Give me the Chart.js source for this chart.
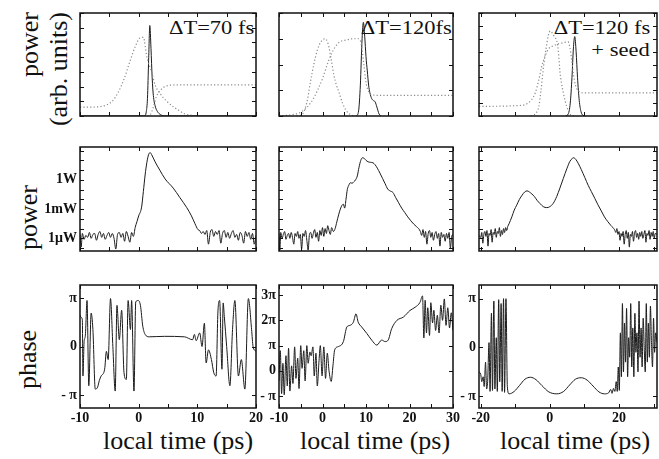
<!DOCTYPE html>
<html>
<head>
<meta charset="utf-8">
<script src="https://cdn.jsdelivr.net/npm/chart.js@4/dist/chart.umd.min.js"></script>
<style>
  body { margin: 0; width: 659px; height: 459px; overflow: hidden; background: #fff; position: relative;
         font-family: 'Liberation Serif', 'Times New Roman', serif; color: #111; }
  canvas { position: absolute; }
  .lab { position: absolute; white-space: nowrap; }
  .rot { transform: rotate(-90deg); }
  .note { font-size: 18px; line-height: 18px; text-align: right; transform: scaleX(1.25); transform-origin: right center; }
  .xt { font-size: 26px; width: 200px; text-align: center; top: 426px; line-height: 30px; }
</style>
</head>
<body>
<div class="lab rot" style="left:-16.5px;top:43px;width:120px;height:58px;font-size:26px;line-height:29px;text-align:right">power<br>(arb. units)</div>
<div class="lab rot" style="left:-12px;top:202.5px;width:80px;height:29px;font-size:26px;line-height:29px;text-align:center">power</div>
<div class="lab rot" style="left:-13px;top:344.5px;width:80px;height:29px;font-size:26px;line-height:29px;text-align:center">phase</div>

<div class="lab note" style="right:405px;top:19px">ΔT=70 fs</div>
<div class="lab note" style="right:207px;top:19px">ΔT=120fs</div>
<div class="lab note" style="right:9px;top:19px">ΔT=120 fs</div>
<div class="lab note" style="right:9px;top:41px">+ seed</div>

<div class="lab xt" style="left:78px">local time (ps)</div>
<div class="lab xt" style="left:275px">local time (ps)</div>
<div class="lab xt" style="left:475px">local time (ps)</div>

<script>
// ---- x axes (local time, ps) ----
const timeRange70 = [-10, 20]
const timeRange120 = [-10, 30]
const timeRangeSeed = [-20.5, 31]
const timeTicks70 = [-10, 0, 10, 20]
const timeTicks120 = [-10, 0, 10, 20, 30]
const timeTicksSeed = [-20, 0, 20]

// ---- row 1: power (arb. units), linear ----
const pulse70 = [[-10,0],[1.0,0],[1.3,0.3],[1.5,1.2],[1.7,3.8],[1.9,6.15],[2.1,4.6],[2.3,2.6],[2.5,1.4],[2.8,0.7],[3.2,0.3],[3.7,0.1],[4.3,0],[20,0]]
const dotA70 = [[-10,0.6],[-7,0.62],[-5.5,0.75],[-4.5,1.0],[-3.5,1.6],[-2.5,2.5],[-1.5,3.7],[-0.5,4.8],[0.2,5.3],[0.8,5.35],[1.4,4.0],[2.2,3.0],[2.8,2.1],[3.6,1.55],[4.8,1.0],[6,0.6],[7,0.35],[7.8,0.15],[9,0.05],[10,0.02]]
const dotB70 = [[1.5,0],[2.0,0.1],[2.5,0.6],[3.0,1.3],[3.6,1.7],[4.5,2.0],[5.5,2.1],[8,2.12],[20,2.12]]

const pulse120 = [[7.8,0],[8.3,0.2],[8.7,1.2],[9.1,3.0],[9.4,3.64],[9.7,3.1],[10.0,2.3],[10.3,1.75],[10.6,1.2],[10.9,0.9],[11.3,0.68],[11.7,0.6],[12.1,0.55],[12.5,0.35],[13,0.08],[13.5,0]]
const dotA120 = [[-6,0],[-4.5,0.1],[-3.5,0.6],[-2.8,1.3],[-2,2.0],[-1.2,2.55],[-0.3,2.9],[0.6,3.0],[1.3,2.8],[2,2.2],[2.6,1.6],[3.2,1.2],[3.9,0.86],[4.6,0.5],[5.5,0.2],[6.5,0.05],[7.5,0]]
const dotB120 = [[-10,0.01],[-7,0.05],[-5,0.15],[-3.5,0.35],[-2,0.7],[-1,1.05],[0,1.45],[1,1.95],[2,2.4],[3,2.7],[4,2.88],[5.5,2.95],[7,3.0],[8.3,3.0],[8.9,2.8],[9.5,2.0],[10.0,1.3],[10.6,0.95],[11.5,0.82],[13,0.8],[30,0.8]]

const pulseSeed = [[4.5,0],[5.3,0.15],[5.9,1.0],[6.4,3.0],[6.8,5.2],[7.2,6.17],[7.6,5.0],[8.0,3.0],[8.5,1.2],[9.0,0.35],[9.6,0.05],[10.2,0]]
const dotASeed = [[-5.5,0],[-4.5,0.1],[-3.6,0.4],[-3.2,0.72],[-2.6,1.9],[-1.8,3.9],[-1.0,5.4],[-0.4,6.3],[0.1,6.6],[0.8,6.4],[1.4,6.1],[2.0,5.85],[2.5,4.9],[2.9,3.5],[3.4,2.5],[3.9,1.8],[4.4,1.2],[4.9,0.72],[5.5,0.3],[6.2,0.05],[7,0]]
const dotBSeed = [[-20.5,0.75],[-15,0.76],[-10,0.8],[-7,0.9],[-5.5,1.2],[-4.2,1.8],[-3.2,2.8],[-2.3,3.9],[-1.3,4.7],[-0.4,5.2],[1,5.45],[2.5,5.6],[4,5.7],[5.3,5.75],[5.8,5.3],[6.3,4.4],[6.8,3.3],[7.4,2.4],[8.2,1.95],[9.6,1.8],[31,1.8]]

// ---- row 2: power, log10(W) ----
const logPowerRange = [-7.3, 3.37]
const logPowerTicks = [0, -3, -6]
const logPowerLabels = ['1W', '1mW', '1\u03bcW']

const logPow70 = [[-10,-5.6],[-9.8,-6.9],[-9.6,-5.5],[-9.3,-6.1],[-9.0,-5.7],[-8.7,-5.9],[-8.4,-5.4],[-8.1,-6.0],[-7.8,-5.6],[-7.5,-5.5],[-7.2,-6.2],[-6.9,-5.6],[-6.6,-5.3],[-6.3,-5.9],[-6.0,-5.5],[-5.7,-6.1],[-5.4,-5.7],[-5.1,-5.4],[-4.8,-5.9],[-4.5,-5.5],[-4.2,-6.0],[-3.9,-7.1],[-3.6,-5.6],[-3.3,-5.4],[-3.0,-5.9],[-2.7,-5.5],[-2.4,-6.3],[-2.1,-5.3],[-1.8,-5.8],[-1.5,-6.4],[-1.2,-5.4],[-0.9,-5.8],[-0.6,-4.9],
  [-0.3,-4.3],[0.0,-3.7],[0.5,-2.8],[0.8,-1.2],[1.1,0.5],[1.4,1.8],[1.7,2.6],[1.95,2.8],[2.2,2.6],[2.8,1.85],[3.6,1.0],[4.5,0.1],[5.9,-0.85],[7.0,-1.8],[8.2,-2.85],[9.0,-3.7],[9.6,-4.5],[10.1,-5.1],
  [10.4,-5.2],[10.7,-5.5],[11.0,-5.3],[11.3,-5.6],[11.6,-5.2],[11.9,-6.6],[12.2,-5.4],[12.5,-5.1],[12.8,-5.8],[13.1,-5.3],[13.4,-5.6],[13.7,-5.2],[14.0,-6.5],[14.3,-5.5],[14.6,-5.2],[14.9,-5.9],[15.2,-5.4],[15.5,-6.0],[15.8,-5.5],[16.1,-5.2],[16.4,-5.9],[16.7,-5.6],[17.0,-6.2],[17.3,-5.4],[17.6,-5.7],[17.9,-6.5],[18.2,-5.3],[18.5,-5.8],[18.8,-5.4],[19.1,-6.1],[19.4,-5.5],[19.7,-6.6],[20,-5.7]]

const logPow120 = [[-10,-5.5],[-9.8,-7.2],[-9.6,-5.4],[-9.3,-6.0],[-9.0,-5.6],[-8.7,-5.3],[-8.4,-6.1],[-8.1,-5.7],[-7.8,-5.5],[-7.5,-6.0],[-7.2,-5.4],[-6.9,-5.9],[-6.6,-6.6],[-6.3,-5.5],[-6.0,-5.8],[-5.7,-5.3],[-5.4,-6.0],[-5.1,-5.6],[-4.8,-7.1],[-4.5,-5.5],[-4.2,-5.8],[-3.9,-5.2],[-3.6,-6.2],[-3.3,-7.2],[-3.0,-5.6],[-2.7,-5.4],[-2.4,-6.0],[-2.1,-5.5],[-1.8,-5.1],[-1.5,-5.9],[-1.2,-5.4],[-0.9,-6.3],[-0.6,-5.2],[-0.3,-5.7],[0.0,-4.9],[0.3,-5.8],[0.6,-5.0],[0.9,-5.5],[1.2,-4.7],[1.5,-5.2],[1.8,-5.6],[2.1,-4.9],[2.5,-5.3],
  [2.9,-5.0],[3.3,-4.3],[3.7,-3.6],[4.1,-3.0],[4.5,-2.6],[4.8,-2.5],[5.1,-2.9],[5.4,-2.0],[5.7,-1.0],[6.0,-0.6],[6.4,-0.3],[6.8,-0.35],[7.2,-0.2],[7.6,0.0],[8.0,0.4],[8.4,1.3],[8.8,2.0],[9.2,2.27],[9.6,2.2],[10.0,2.0],[10.5,1.85],[11.0,1.8],[11.6,1.75],[12.1,1.55],[12.6,1.2],[13.2,0.7],[13.8,0.15],[14.4,-0.4],[15.0,-0.95],[15.6,-1.15],[16.2,-1.3],[16.8,-1.8],[17.5,-2.35],[18.2,-2.9],[18.9,-3.35],[19.6,-3.8],[20.3,-4.2],[21.0,-4.55],[21.6,-4.8],[22.1,-5.0],[22.5,-5.3],
  [22.8,-5.7],[23.1,-5.1],[23.4,-5.9],[23.7,-5.3],[24.0,-6.6],[24.3,-5.5],[24.6,-5.2],[24.9,-5.9],[25.2,-5.4],[25.5,-6.2],[25.8,-5.6],[26.1,-5.3],[26.4,-6.0],[26.7,-5.5],[27.0,-6.8],[27.3,-5.4],[27.6,-5.9],[27.9,-5.6],[28.2,-6.3],[28.5,-5.5],[28.8,-6.0],[29.1,-5.4],[29.4,-7.0],[29.7,-5.8],[30,-5.6]]

const logPowSeed = [[-20.5,-5.7],[-20,-5.9],[-19.7,-5.4],[-19.4,-6.5],[-19.1,-5.6],[-18.8,-5.3],[-18.5,-5.8],[-18.2,-5.2],[-17.9,-6.8],[-17.6,-5.5],[-17.3,-5.7],[-17.0,-5.1],[-16.7,-6.4],[-16.4,-5.4],[-16.1,-5.6],[-15.8,-5.0],[-15.5,-5.9],[-15.2,-5.3],[-14.9,-5.5],[-14.6,-4.9],[-14.3,-5.8],[-14.0,-5.2],[-13.7,-5.6],[-13.4,-5.0],[-13.1,-5.4],[-12.8,-4.9],[-12.5,-5.2],
  [-12.2,-4.8],[-11.8,-4.5],[-11.0,-3.8],[-10.3,-3.1],[-9.6,-2.6],[-8.8,-2.0],[-8.0,-1.56],[-7.3,-1.25],[-6.6,-1.13],[-5.9,-1.25],[-5.2,-1.45],[-4.5,-1.7],[-3.7,-2.1],[-2.8,-2.45],[-1.9,-2.75],[-0.9,-2.85],[0.0,-2.75],[1.0,-2.4],[2.0,-1.7],[2.9,-0.85],[3.9,0.15],[4.9,1.13],[5.8,1.9],[6.5,2.2],[6.9,2.27],[7.5,2.1],[8.2,1.7],[9.1,1.05],[10.1,0.25],[11.1,-0.57],[12.0,-1.2],[13.0,-1.9],[13.9,-2.55],[14.9,-3.2],[15.8,-3.8],[16.8,-4.3],[17.7,-4.7],[18.7,-5.1],
  [19.1,-5.4],[19.4,-5.0],[19.7,-5.6],[20.0,-5.3],[20.3,-6.2],[20.6,-5.5],[20.9,-5.8],[21.2,-5.3],[21.5,-6.6],[21.8,-5.6],[22.1,-5.2],[22.4,-6.0],[22.7,-5.4],[23.0,-6.9],[23.3,-5.6],[23.6,-5.8],[23.9,-5.3],[24.2,-6.3],[24.5,-5.5],[24.8,-5.2],[25.1,-5.9],[25.4,-5.5],[25.7,-6.1],[26.0,-5.4],[26.3,-5.8],[26.6,-5.3],[26.9,-6.0],[27.2,-5.6],[27.5,-5.2],[27.8,-6.4],[28.1,-5.5],[28.4,-5.7],[28.7,-5.2],[29.0,-6.1],[29.3,-5.4],[29.6,-5.8],[29.9,-5.3],[30.2,-6.0],[30.5,-5.5],[31,-5.6]]

// ---- row 3: phase, in units of pi ----
const phaseTicks1 = [1, 0, -1]
const phaseLabels1 = ['\u03c0', '0', '- \u03c0']
const phaseTicks3 = [3, 2, 1, 0, -1]
const phaseLabels3 = ['3\u03c0', '2\u03c0', '\u03c0', '0', '- \u03c0']

const phase70 = [[-10,0.65],[-9.8,0.6],[-9.6,0.55],[-9.5,-0.61],[-9.3,0.1],[-9.1,0.21],[-8.8,0.95],[-8.5,-0.81],[-8.1,0.69],[-7.8,0.35],[-7.4,-0.88],[-7.0,-0.84],[-6.7,-0.7],[-6.4,-0.61],[-5.8,-0.47],[-5.5,-0.1],[-5.2,-0.27],[-4.8,0.99],[-4.4,0.0],[-4.0,-0.92],[-3.7,0.85],[-3.3,0.14],[-2.9,0.75],[-2.5,-0.54],[-2.1,-0.68],[-1.8,0.95],[-1.4,0.35],[-1.2,0.95],[-0.8,-0.92],[-0.5,0.92],[-0.1,0.95],[0.3,0.85],[0.7,0.42],[1.1,0.25],[1.8,0.2],[4.4,0.21],[7.8,0.2],[9.2,0.14],[9.5,0.25],[9.8,0.12],[10.4,0.28],[10.8,0.0],[11.2,0.48],[11.5,-0.34],[11.9,-0.07],[12.4,-0.27],[12.8,-0.54],[13.2,-0.61],[13.5,0.69],[13.8,0.95],[14.2,-0.47],[14.4,0.9],[14.6,0.62],[15.0,0.0],[15.55,-0.81],[16.0,0.35],[16.4,0.95],[17.0,-0.61],[17.5,-0.27],[18.1,-0.88],[18.7,0.99],[19.25,0.35],[19.5,0.0],[20,-0.1]]

const phase120 = [[-10,-0.4],[-9.7,0.8],[-9.4,-0.9],[-9.1,0.3],[-8.8,-0.95],[-8.4,0.6],[-8.1,-0.6],[-7.8,0.9],[-7.5,-0.8],[-7.1,0.2],[-6.8,-0.5],[-6.4,0.95],[-6.1,-0.3],[-5.7,0.5],[-5.4,-0.7],[-5.0,1.0],[-4.7,0.1],[-4.3,0.8],[-4.0,-0.4],[-3.6,1.0],[-3.3,0.3],[-2.9,0.75],[-2.6,0.6],[-2.2,0.95],[-1.9,-0.2],[-1.5,0.7],[-1.2,-0.6],[-0.8,0.4],[-0.5,1.0],[-0.1,-0.2],[0.3,0.95],[0.7,-0.3],[1.1,0.7],[1.5,0.0],[2.0,-0.42],[2.4,0.2],[2.8,0.83],[3.6,0.96],[4.8,1.16],[5.6,1.74],[6.3,1.8],[7.1,1.93],[7.7,2.26],[8.2,1.93],[9.0,1.74],[10.2,1.48],[11.3,1.22],[12.5,1.02],[13.6,1.22],[14.4,1.16],[15.1,1.22],[15.9,1.67],[17.1,2.0],[18.6,2.13],[20.1,2.39],[21.3,2.52],[22.4,2.71],[23.0,2.97],[23.3,1.3],[23.6,2.8],[23.9,1.5],[24.2,2.5],[24.6,1.4],[24.9,2.7],[25.3,1.9],[25.6,2.4],[26.0,1.6],[26.4,2.2],[26.8,1.5],[27.2,2.6],[27.6,2.0],[28.0,2.85],[28.4,1.8],[28.8,2.5],[29.2,1.7],[29.6,2.3],[30,1.6]]

const phaseSeed = [[-20.5,-0.5],[-20.0,-0.55],[-19.7,-0.7],[-19.3,-0.6],[-19.0,-0.8],[-18.6,-0.3],[-18.3,-0.85],[-18.0,-0.7],[-17.6,0.1],[-17.3,-0.9],[-16.9,0.7],[-16.6,-0.88],[-16.2,0.95],[-15.9,-0.85],[-15.5,0.2],[-15.2,-0.9],[-14.8,0.98],[-14.5,-0.7],[-14.1,0.9],[-13.8,-0.9],[-13.4,1.0],[-13.1,-0.92],[-12.7,1.0],[-12.3,-0.8],[-11.8,-0.95],[-10.3,-0.9],[-8.8,-0.78],[-7.2,-0.65],[-5.6,-0.61],[-4.0,-0.66],[-2.3,-0.78],[-0.3,-0.91],[2.0,-0.95],[4.0,-0.9],[5.7,-0.77],[7.4,-0.65],[9.1,-0.62],[10.8,-0.67],[12.5,-0.79],[14.2,-0.91],[15.8,-0.95],[17.0,-0.93],[17.6,-0.86],[18.0,-0.94],[18.4,-0.84],[18.8,-0.9],[19.2,-0.7],[19.5,-0.9],[19.8,-0.4],[20.1,-0.88],[20.4,0.3],[20.7,-0.6],[21.0,0.9],[21.3,-0.5],[21.6,0.5],[21.9,-0.3],[22.2,0.8],[22.5,-0.6],[22.8,0.2],[23.1,-0.2],[23.4,0.9],[23.7,-0.4],[24.0,0.4],[24.3,-0.6],[24.6,0.7],[24.9,-0.1],[25.2,0.3],[25.5,-0.5],[25.8,0.95],[26.1,-0.2],[26.4,0.4],[26.7,-0.4],[27.0,0.6],[27.3,0.0],[27.6,-0.5],[27.9,0.9],[28.2,-0.3],[28.5,0.5],[28.8,-0.2],[29.1,0.85],[29.4,0.1],[29.7,-0.4],[30.0,0.6],[30.3,-0.1],[30.6,0.3],[31,0.1]]

// layout of the 3x3 grid (plot boxes in page pixels)
const colBox = [{l: 80, r: 256}, {l: 279, r: 453}, {l: 479, r: 657}]
const rowBox = [{t: 13, b: 138}, {t: 147, b: 273}, {t: 285, b: 408}]
const tickFont = {family: 'Liberation Serif', size: 14, weight: 'bold'}

const solid = (pts) => ({pts, color: '#1b1b1b', width: 1})
const dotted = (pts) => ({pts, color: '#8a8a8a', width: 1.2, dash: [1.2, 2.2]})

function frame(xStep, yStep) {
  return {
    id: 'frame',
    afterDraw(chart) {
      const {ctx, chartArea: a, scales: {x, y}} = chart
      ctx.save()
      ctx.strokeStyle = '#111'
      ctx.lineWidth = 1
      ctx.beginPath()
      for (let v = Math.ceil(x.min / xStep) * xStep; v <= x.max; v += xStep) {
        const px = Math.round(x.getPixelForValue(v)) + 0.5
        ctx.moveTo(px, a.top); ctx.lineTo(px, a.top + 4)
        ctx.moveTo(px, a.bottom); ctx.lineTo(px, a.bottom - 4)
      }
      for (let v = Math.ceil(y.min / yStep) * yStep; v <= y.max; v += yStep) {
        const py = Math.round(y.getPixelForValue(v)) + 0.5
        ctx.moveTo(a.left, py); ctx.lineTo(a.left + 4, py)
        ctx.moveTo(a.right, py); ctx.lineTo(a.right - 4, py)
      }
      ctx.stroke()
      ctx.lineWidth = 1.5
      ctx.strokeRect(a.left, a.top, a.right - a.left, a.bottom - a.top)
      ctx.restore()
    }
  }
}

function panel(row, col, p) {
  const c = colBox[col], r = rowBox[row]
  const bottomRoom = row === 2 ? 22 : 4
  const cv = document.createElement('canvas')
  cv.width = 40 + (c.r - c.l) + 14
  cv.height = 4 + (r.b - r.t) + bottomRoom
  cv.style.left = (c.l - 40) + 'px'
  cv.style.top = (r.t - 4) + 'px'
  document.body.appendChild(cv)

  new Chart(cv, {
    type: 'line',
    data: {
      datasets: p.sets.map(s => ({
        data: s.pts.map(q => ({x: q[0], y: q[1]})),
        borderColor: s.color,
        borderWidth: s.width,
        borderDash: s.dash || [],
        pointRadius: 0,
        fill: false,
        cubicInterpolationMode: 'monotone'
      }))
    },
    options: {
      responsive: false,
      animation: false,
      events: [],
      layout: {padding: {top: 4, right: 14, bottom: row === 2 ? 0 : 4, left: 0}},
      plugins: {legend: {display: false}, tooltip: {enabled: false}},
      scales: {
        x: {
          type: 'linear', min: p.xr[0], max: p.xr[1],
          display: row === 2,
          grid: {display: false, drawTicks: false}, border: {display: false},
          ticks: {font: tickFont, color: '#111', padding: 2, maxRotation: 0, autoSkip: false,
                  callback: v => String(v)},
          afterBuildTicks: s => { s.ticks = p.xt.map(v => ({value: v})) },
          afterFit: s => { s.height = 22; s.paddingLeft = 0; s.paddingRight = 0 }
        },
        y: {
          type: 'linear', min: p.yr[0], max: p.yr[1],
          grid: {display: false, drawTicks: false}, border: {display: false},
          ticks: {font: tickFont, color: '#111', padding: 3, autoSkip: false,
                  callback: (v, i) => p.yl[i] || ''},
          afterBuildTicks: s => { s.ticks = p.yt.map(v => ({value: v})) },
          afterFit: s => { s.width = 40; s.paddingTop = 0; s.paddingBottom = 0 }
        }
      }
    },
    plugins: [frame(p.xs, p.ys)]
  })
}

// row 1
panel(0, 0, {xr: timeRange70, xt: [], xs: 5, yr: [0, 7], yt: [], yl: [], ys: 1,
  sets: [dotted(dotA70), dotted(dotB70), solid(pulse70)]})
panel(0, 1, {xr: timeRange120, xt: [], xs: 5, yr: [0, 4], yt: [], yl: [], ys: 1,
  sets: [dotted(dotA120), dotted(dotB120), solid(pulse120)]})
panel(0, 2, {xr: timeRangeSeed, xt: [], xs: 10, yr: [0, 8], yt: [], yl: [], ys: 1,
  sets: [dotted(dotASeed), dotted(dotBSeed), solid(pulseSeed)]})

// row 2
panel(1, 0, {xr: timeRange70, xt: [], xs: 5, yr: logPowerRange, yt: logPowerTicks, yl: logPowerLabels, ys: 1,
  sets: [solid(logPow70)]})
panel(1, 1, {xr: timeRange120, xt: [], xs: 5, yr: logPowerRange, yt: [], yl: [], ys: 1,
  sets: [solid(logPow120)]})
panel(1, 2, {xr: timeRangeSeed, xt: [], xs: 10, yr: logPowerRange, yt: [], yl: [], ys: 1,
  sets: [solid(logPowSeed)]})

// row 3
panel(2, 0, {xr: timeRange70, xt: timeTicks70, xs: 5, yr: [-1.27, 1.27], yt: phaseTicks1, yl: phaseLabels1, ys: 1,
  sets: [solid(phase70)]})
panel(2, 1, {xr: timeRange120, xt: timeTicks120, xs: 5, yr: [-1.47, 3.4], yt: phaseTicks3, yl: phaseLabels3, ys: 1,
  sets: [solid(phase120)]})
panel(2, 2, {xr: timeRangeSeed, xt: timeTicksSeed, xs: 10, yr: [-1.24, 1.28], yt: phaseTicks1, yl: phaseLabels1, ys: 1,
  sets: [solid(phaseSeed)]})
</script>
</body>
</html>
